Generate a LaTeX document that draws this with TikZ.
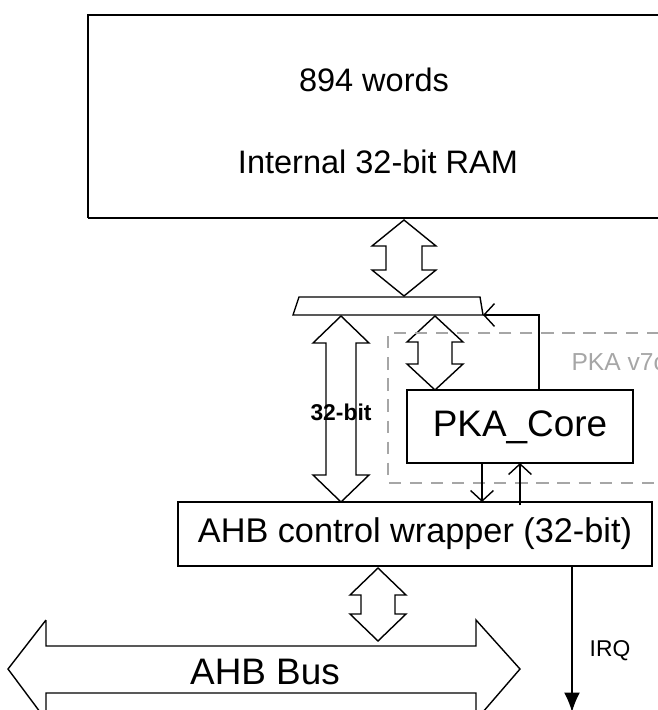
\documentclass[tikz,border=0pt]{standalone}
\usepackage{fontspec}
\setmainfont{Liberation Sans}
\usetikzlibrary{arrows.meta}
\usetikzlibrary{calc}

% hollow double arrow, vertical: x, y top, y bottom, half outer, half shaft, head
\newcommand{\vdbl}[6]{%
  \draw (#1,#2) -- (#1+#4,#2+#6) -- (#1+#5,#2+#6) -- (#1+#5,#3-#6) -- (#1+#4,#3-#6)
    -- (#1,#3) -- (#1-#4,#3-#6) -- (#1-#5,#3-#6) -- (#1-#5,#2+#6) -- (#1-#4,#2+#6) -- cycle;}

\begin{document}
\begin{tikzpicture}[x=0.02cm,y=-0.02cm,line width=0.8pt,>/.tip={Straight Barb[length=6pt,width=13pt]},
  box/.style={draw,inner sep=0pt}]
	\useasboundingbox (0,0) rectangle (657,710);
	\draw (88,218) -- (88,15) -- (680,15) (88,218) -- (680,218);
	\node (words) at (374,80) {\fontsize{18.5}{22}\selectfont 894 words};
	\node (ram) at (378,162) {\fontsize{18.5}{22}\selectfont Internal 32-bit RAM};

	\vdbl{404}{220}{296}{32}{18}{26}
	\draw (299,297) -- (480,297) -- (483,315) -- (293,315) -- cycle;
	\coordinate (mux) at (483,315);

	\vdbl{341}{316}{502}{28}{15}{27}
	\node (bits) at (341,412) {\fontsize{13}{15}\selectfont\bfseries 32-bit};
	\vdbl{435}{316}{390}{28}{17}{26}

	\draw[gray!70,dashed,dash pattern=on 7pt off 5pt,line width=1.2pt] (680,333) -- (388,333) -- (388,483) -- (680,483);
	\node[gray!70,anchor=west] (pka) at (565,362) {\fontsize{14}{16}\selectfont PKA v7c};

	\draw[fill=white] (407,390) rectangle (633,463);
	\node (core) at (520,427) {\fontsize{21}{24}\selectfont PKA\_Core};
	\draw[->] (539,390) |- (mux);
	\draw[->] (482,463) -- (482,502);
	\draw[->] (520,505) -- (520,463);

	\draw (178,502) rectangle (652,566);
	\node (wrap) at (415,534) {\fontsize{19.5}{23}\selectfont AHB control wrapper (32-bit)};

	\vdbl{378}{568}{641}{28}{17}{27}
	\draw (46,720) -- (46,693) -- (476,693) -- (476,720) (46,620) -- (46,646) -- (476,646) -- (476,620) -- (520,669) -- (476,720)
	  (46,620) -- (8,669) -- (46,720);
	\node (bus) at (265,672) {\fontsize{21}{24}\selectfont AHB Bus};

	\draw[-{Latex[length=11pt,width=9pt]}] (572,566) -- (572,712);
	\node (irq) at (610,651) {\fontsize{13}{15}\selectfont IRQ};
\end{tikzpicture}
\end{document}
